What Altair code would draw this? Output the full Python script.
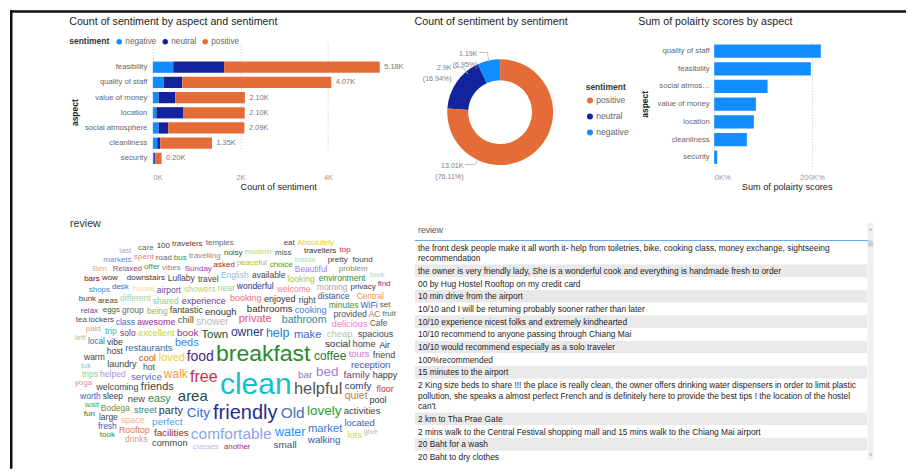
import numpy as np
import pandas as pd
import altair as alt

# ------------------------------------------------------------------ data
aspects = ["feasibility", "quality of staff", "value of money", "location",
           "social atmosphere", "cleanliness", "security"]
sentiment_order = ["negative", "neutral", "positive"]
neg_counts = [466, 250, 132, 80, 130, 100, 30]
neu_counts = [1161, 420, 380, 620, 220, 70, 25]
pos_counts = [3553, 3404, 1590, 1398, 1740, 1180, 145]

polarity_aspects = ["quality of staff", "feasibility", "social atmosphere",
                    "value of money", "location", "cleanliness", "security"]
polarity_sums = [2184, 1980, 1093, 854, 813, 669, 61]

reviews = [
    "the front desk people make it all worth it- help from toiletries, bike, cooking class, money exchange, sightseeing recommendation",
    "the owner is very friendly lady, She is a wonderful cook and everything is handmade fresh to order",
    "00 by Hug Hostel Rooftop on my credit card",
    "10 min drive from the airport",
    "10/10 and I will be returning probably sooner rather than later",
    "10/10 experience nicest folks and extremely kindhearted",
    "10/10 recommend to anyone passing through Chiang Mai",
    "10/10 would recommend especially as a solo traveler",
    "100%recommended",
    "15 minutes to the airport",
    "2 King size beds to share !!! the place is really clean, the owner offers drinking water dispensers in order to limit plastic pollution, she speaks a almost perfect French and is definitely here to provide the best tips ! the location of the hostel can't",
    "2 km to Tha Prae Gate",
    "2 mins walk to the Central Festival shopping mall and 15 mins walk to the Chiang Mai airport",
    "20 Baht for a wash",
    "20 Baht to dry clothes",
]

cloud_words = [
    "privacy", "Beautiful", "choice", "peaceful", "asked", "Sunday", "house", "yoga", "local", "lockers",
    "downstairs", "Bodega", "welcome", "wait", "eggs", "minutes", "small", "problem", "Old", "wonderful",
    "paid", "walking", "fruit", "sleep", "Inside", "fun", "bar", "another", "enjoyed", "drinks",
    "vibes", "Rooftop", "areas", "miss", "modern", "common", "delicious", "cheap", "located", "noisy",
    "travelling", "desk", "relax", "pretty", "owner", "bathrooms", "comfortable", "travellers", "find", "look",
    "facilities", "bus", "comfy", "offer", "service", "City", "street", "near", "classes", "provided",
    "fantastic", "food", "floor", "temples", "shops", "bunk", "chill", "water", "enough", "lots",
    "road", "helpful", "found", "Relaxed", "travelers", "wow", "spent", "private", "set", "easy",
    "loved", "Absolutely", "hot", "100", "being", "Air", "walk", "lovely", "distance", "tours",
    "cool", "restaurant", "showers", "bars", "activities", "Town", "markets", "solo", "bathroom", "care",
    "booking", "experience", "pool", "market", "family", "Ben", "left", "weeks", "tuk", "centre",
    "reception", "beds", "host", "Cafe", "coffee", "breakfast", "dinners", "enjoy", "last", "shared",
    "restaurants", "make", "wanted", "social", "vibe", "right", "value", "music", "crawl", "relaxing",
    "excellent", "tea", "bed", "perfect", "helped", "large", "took", "nearby", "friends", "awesome",
    "dinner", "garden", "home", "morning", "looking", "never", "available", "happy", "welcoming", "give",
    "Gate", "shower", "area", "tour", "toast", "AC", "class", "English", "space", "help",
    "clean", "Kate", "stuff", "kitchen", "free", "travel", "airport", "eat", "book", "reasonable",
    "friendly", "laundry", "quiet", "toilet", "cooking", "new", "party", "spacious", "fresh", "group",
    "WiFi", "light", "owners", "warm", "trip", "top", "friend", "trips", "convenient", "Central",
    "Lullaby", "worth", "different", "needed", "prices", "issue", "thank", "environment", "drink", "second",
]
cloud_counts = [
    26, 30, 26, 26, 26, 26, 26, 26, 28, 26,
    26, 31, 31, 26, 26, 31, 46, 26, 101, 31,
    26, 44, 26, 31, 26, 26, 46, 24, 36, 31,
    26, 34, 26, 26, 26, 39, 38, 41, 40, 26,
    26, 26, 26, 26, 66, 43, 101, 26, 26, 26,
    44, 26, 46, 26, 44, 81, 39, 31, 24, 33,
    35, 86, 34, 26, 26, 26, 39, 71, 41, 38,
    26, 111, 26, 26, 26, 26, 26, 56, 26, 53,
    56, 26, 31, 26, 31, 31, 66, 81, 31, 40,
    40, 26, 31, 26, 42, 61, 26, 31, 52, 26,
    36, 36, 36, 59, 46, 26, 26, 26, 21, 26,
    42, 56, 31, 31, 66, 176, 26, 26, 26, 31,
    41, 59, 26, 46, 31, 33, 26, 26, 26, 26,
    39, 26, 81, 46, 32, 31, 26, 26, 56, 36,
    26, 26, 39, 31, 31, 26, 31, 36, 36, 26,
    26, 48, 96, 26, 26, 31, 31, 31, 36, 71,
    246, 26, 26, 26, 106, 31, 31, 26, 46, 26,
    146, 36, 52, 26, 39, 39, 54, 36, 31, 31,
    31, 26, 26, 31, 31, 26, 36, 31, 26, 31,
    31, 31, 31, 26, 26, 26, 26, 31, 26, 26,
]

# ----------------------------------------------------------------- style
ORANGE, NAVY, BLUE = "#E66C37", "#12239E", "#118DFF"
FONT = "Liberation Sans"
DARK = "#252423"
cloud_palette = [
    "#3a3a3a", "#9d7df0", "#2ca02c", "#bcbd22", "#a0282d", "#a23fae", "#f0d8a0", "#d98d9c", "#1f77b4", "#444444",
    "#333333", "#7a8b2a", "#ff7f8e", "#3cae3c", "#2e6b2e", "#3b8e3b", "#4d4f6e", "#8a8a5a", "#4a6fba", "#2b2b82",
    "#c8a870", "#3757a8", "#3d7a3d", "#333a55", "#a8e0a0", "#2e6b2e", "#8a7bc0", "#a2306c", "#333333", "#c9a090",
    "#8a8a8a", "#e8743b", "#4d4d2a", "#1e5e3e", "#b8d65a", "#444444", "#e87dd0", "#a8c8a8", "#3560b0", "#2e5e2e",
    "#8a8a8a", "#3a6ad0", "#6a4a9a", "#444444", "#24378a", "#333333", "#8ea2ea", "#333333", "#8a3a8a", "#90e0e0",
    "#8b2a2a", "#2a9a2a", "#24386a", "#3aa03a", "#5a6ab0", "#3a6adf", "#2a8a8a", "#9ad09a", "#c0b0e8", "#445566",
    "#3a4a2a", "#4a2a7a", "#d03030", "#666666", "#3a8ad0", "#444444", "#4a5a2a", "#1e90ff", "#333333", "#c8d850",
    "#666666", "#555555", "#444444", "#a05050", "#6a3a2a", "#333333", "#f08080", "#e0507a", "#555555", "#2a8a4a",
    "#e8d020", "#e8d020", "#2a5a4a", "#333333", "#a0b060", "#222244", "#f39c3a", "#2aa02a", "#334f8f", "#d070d0",
    "#d05010", "#556070", "#c0d070", "#8b0000", "#444444", "#1e4e1e", "#6a8ae0", "#8a2a6a", "#2a8a9a", "#666666",
    "#f07070", "#6a3a9a", "#333333", "#3a7ad0", "#6a3a8a", "#f0a080", "#c0c070", "#c8c890", "#a0c0a0", "#444444",
    "#3a5aa0", "#3a8ae0", "#444444", "#555555", "#2a7a2a", "#2a8a2a", "#556b2f", "#5a3a2a", "#aab0c0", "#8ad08a",
    "#2a6ab0", "#3a6ad0", "#ff60c0", "#333333", "#333333", "#334455", "#a05050", "#d080d0", "#d0b0a0", "#9a7a3a",
    "#c0d050", "#555555", "#a080d0", "#4aa0e0", "#b090e0", "#444444", "#2a8a2a", "#444444", "#444444", "#9a2a9a",
    "#444444", "#aaaaaa", "#444444", "#aaaaaa", "#b0c040", "#aaaaaa", "#444444", "#333333", "#444444", "#bbbbbb",
    "#3a6ad0", "#bbbbbb", "#1e4e3e", "#888888", "#444444", "#b07050", "#3a6ad0", "#8ac0e0", "#f0b080", "#1e80d0",
    "#17becf", "#8a8a3a", "#b0b070", "#333333", "#c0304a", "#444444", "#6a4a9a", "#444444", "#8a3a8a", "#333344",
    "#1e2e8e", "#444444", "#c0803a", "#6ae06a", "#3a80e0", "#444444", "#333344", "#444444", "#3a60b0", "#666666",
    "#3a5ad0", "#888888", "#f09090", "#444444", "#2ac0d0", "#d02050", "#444444", "#8ad08a", "#c0e0c0", "#f09050",
    "#444444", "#3a60d0", "#a0d0a0", "#333333", "#334455", "#444444", "#777777", "#2a8a2a", "#2ad02a", "#555555",
]

# Arial / Liberation Sans advance widths (1/1000 em) for text measurement
AW = dict(zip("abcdefghijklmnopqrstuvwxyz",
              [556, 556, 500, 556, 556, 278, 556, 556, 222, 222, 500, 222, 833,
               556, 556, 556, 556, 333, 500, 278, 556, 500, 722, 500, 500, 500]))
AW.update(zip("ABCDEFGHIJKLMNOPQRSTUVWXYZ",
              [667, 667, 722, 722, 667, 611, 778, 722, 278, 500, 667, 556, 833,
               722, 778, 667, 778, 722, 667, 611, 722, 667, 944, 667, 667, 611]))
AW.update({c: 556 for c in "0123456789"})
AW.update({" ": 278, "!": 278, ",": 278, ".": 278, "-": 333, "'": 191, "/": 278,
           "%": 889, "(": 333, ")": 333, ":": 278, "?": 556})


def text_width(s, fs):
    return sum(AW.get(ch, 556) for ch in s) * fs / 1000.0


one = pd.DataFrame({"k": [0]})

# ------------------------------------------------ P0: spacer + frame
frame_left = alt.Chart(one).mark_rule(color="#111111", strokeWidth=2.5).encode(
    x=alt.value(-65.75), y=alt.value(-32), y2=alt.value(427))
frame_top = alt.Chart(one).mark_rule(color="#111111", strokeWidth=2.5).encode(
    x=alt.value(-67), x2=alt.value(830), y=alt.value(-30.75))
P0 = alt.layer(frame_left, frame_top).properties(width=76, height=124)

# ------------------------------------------------ P1: stacked bars
rows = []
for a, n, u, p in zip(aspects, neg_counts, neu_counts, pos_counts):
    for s, c in zip(sentiment_order, (n, u, p)):
        rows.append({"aspect": a, "sentiment": s, "count": c})
df1 = pd.DataFrame(rows)

P1_W, P1_H = 251, 124
x1_axis = alt.Axis(values=[0, 2000, 4000], labelExpr="datum.value/1000 + 'K'",
                   title="Count of sentiment", titleFontSize=9.1, titleFontWeight="normal",
                   titleColor=DARK, titlePadding=2, labelFontSize=7.7, labelColor="#9a9a9a",
                   labelPadding=7, ticks=False, domain=False, grid=True, gridDash=[1, 2],
                   gridColor="#c4c4c4")
y1_axis = alt.Axis(title="aspect", titleX=-78, titleY=70, titleAngle=270, titleAlign="center",
                   titleBaseline="middle", titleFontSize=8.5, titleFontWeight="bold",
                   titleColor=DARK, labelFontSize=7.7, labelColor="#666666", labelPadding=6,
                   ticks=False, domain=False, labelLimit=150)
y1 = alt.Y("aspect:N", sort=aspects,
           scale=alt.Scale(range=[17.4, 123.9], paddingInner=0.26, paddingOuter=0.13),
           axis=y1_axis)
bars1 = alt.Chart(df1).transform_calculate(
    o="indexof(['negative','neutral','positive'], datum.sentiment)"
).mark_bar().encode(
    x=alt.X("count:Q", stack="zero", scale=alt.Scale(domain=[0, 5724], nice=False), axis=x1_axis),
    y=y1,
    color=alt.Color("sentiment:N",
                    scale=alt.Scale(domain=sentiment_order, range=[BLUE, NAVY, ORANGE]),
                    legend=alt.Legend(orient="none", legendX=-83.7, legendY=-5,
                                      direction="horizontal", title="sentiment",
                                      titleOrient="left", titleFontSize=8.5,
                                      titleFontWeight="bold", titleColor="#333333",
                                      labelFontSize=8.2, labelColor="#666666",
                                      symbolType="circle", symbolSize=30,
                                      symbolStrokeWidth=0, labelOffset=2, columnPadding=4,
                                      titlePadding=5, padding=0)),
    order=alt.Order("o:Q"),
)
lab1 = alt.Chart(df1).transform_aggregate(
    total="sum(count)", groupby=["aspect"]
).transform_calculate(
    lbl="format(datum.total/1000, '.2f') + 'K'"
).mark_text(align="left", baseline="middle", dx=4.5, fontSize=7.4, color="#777777").encode(
    x=alt.X("total:Q", title="Count of sentiment"),
    y=alt.Y("aspect:N", sort=aspects),
    text="lbl:N",
)
P1 = alt.layer(bars1, lab1).properties(
    width=P1_W, height=P1_H,
    title=alt.TitleParams("Count of sentiment by aspect and sentiment", anchor="start",
                          frame="group", dx=-83.7, offset=10, fontSize=10.7,
                          fontWeight="normal", color=DARK, font=FONT))

# ------------------------------------------------ P2: donut
don = alt.Chart(df1).transform_aggregate(
    total="sum(count)", groupby=["sentiment"]
).transform_joinaggregate(
    grand="sum(total)"
).transform_calculate(
    o="indexof(['positive','neutral','negative'], datum.sentiment)",
    lbl="format(datum.total/1000, '.2~f') + 'K\\n(' + format(datum.total/datum.grand, '.2%') + ')'",
)
arc = don.mark_arc(innerRadius=32, outerRadius=53).encode(
    theta=alt.Theta("total:Q", stack=True),
    order=alt.Order("o:Q"),
    color=alt.Color("sentiment:N",
                    scale=alt.Scale(domain=["positive", "neutral", "negative"],
                                    range=[ORANGE, NAVY, BLUE]),
                    legend=alt.Legend(orient="none", legendX=182.3, legendY=40.5,
                                      direction="vertical", title="sentiment",
                                      titleFontSize=8.5, titleFontWeight="bold",
                                      titleColor="#333333", labelFontSize=8.6,
                                      labelColor="#666666", symbolType="circle",
                                      symbolSize=36, symbolStrokeWidth=0, labelOffset=2,
                                      rowPadding=7, titlePadding=5, padding=0)),
    x=alt.value(96.7), y=alt.value(70),
)
don_labels = []
for s, lx, ly in [("negative", 74, 11.7), ("neutral", 48, 25.8), ("positive", 60, 124.2)]:
    don_labels.append(
        don.transform_filter(f"datum.sentiment == '{s}'").mark_text(
            align="right", baseline="middle", lineBreak="\n", lineHeight=11,
            fontSize=7.1, color="#808080"
        ).encode(text="lbl:N", x=alt.value(lx), y=alt.value(ly)))
leaders = []
for (ax, ay, bx, by) in [(75.8, 10.2, 84, 10.2), (84, 10.2, 85.5, 19.5),
                         (49.5, 25.5, 59.5, 25.5), (59.5, 25.5, 64.5, 32),
                         (61.5, 122.5, 72, 122.5), (72, 122.5, 74.5, 116.5)]:
    leaders.append(alt.Chart(one).mark_rule(color="#b0b0b0", strokeWidth=0.8).encode(
        x=alt.value(ax), y=alt.value(ay), x2=alt.value(bx), y2=alt.value(by)))
P2 = alt.layer(arc, *don_labels, *leaders).properties(
    width=311, height=124,
    title=alt.TitleParams("Count of sentiment by sentiment", anchor="start", frame="group",
                          dx=11, offset=14.6, fontSize=10.7, fontWeight="normal",
                          color=DARK, font=FONT))

# ------------------------------------------------ P3: polarity bars
df3 = pd.DataFrame({"aspect": polarity_aspects, "score": polarity_sums})
P3 = alt.Chart(df3).mark_bar(color=BLUE).encode(
    x=alt.X("score:Q", scale=alt.Scale(domain=[0, 2968], nice=False),
            axis=alt.Axis(values=[0, 2000], labelExpr="format(datum.value/10, 'd') + 'K%'",
                          title="Sum of polairty scores", titleFontSize=9.2,
                          titleFontWeight="normal", titleColor=DARK, titlePadding=2,
                          labelFontSize=7.7, labelColor="#9a9a9a", labelPadding=7,
                          ticks=False, domain=False, grid=True, gridDash=[1, 2],
                          gridColor="#c4c4c4")),
    y=alt.Y("aspect:N", sort=polarity_aspects,
            scale=alt.Scale(paddingInner=0.25, paddingOuter=0.125),
            axis=alt.Axis(title="aspect", titleX=-70, titleY=61.7, titleAngle=270,
                          titleAlign="center", titleBaseline="middle", titleFontSize=8.5,
                          titleFontWeight="bold", titleColor=DARK, labelFontSize=7.7,
                          labelColor="#666666", labelPadding=5, labelLimit=54,
                          ticks=False, domain=False)),
).properties(
    width=145, height=124,
    title=alt.TitleParams("Sum of polairty scores by aspect", anchor="start", frame="group",
                          dx=-76, offset=14.6, fontSize=10.7, fontWeight="normal",
                          color=DARK, font=FONT))

# ------------------------------------------------ word cloud (spiral layout)
SZ_DOM, SZ_RNG = (20, 250), (7.4, 30.4)


def font_size(c):
    return SZ_RNG[0] + (c - SZ_DOM[0]) * (SZ_RNG[1] - SZ_RNG[0]) / (SZ_DOM[1] - SZ_DOM[0])


GW, GH = 326, 212
yy, xx = np.mgrid[0:GH, 0:GW]
ex = (xx + 0.5 - GW / 2) / (GW / 2)
ey = (yy + 0.5 - GH / 2) / (GH / 2)
outside = (np.abs(ex) ** 4 + np.abs(ey) ** 4) > 1.0
occupied = outside.copy()
CX, CY = 183.0, 146.0
spiral = []
t = 0.0
while True:
    r = 0.6 * t
    if r > 230:
        break
    spiral.append((CX + 1.5 * r * np.cos(t), CY - r * np.sin(t)))
    t += min(0.5, 1.5 / max(r, 1.0))


def try_place(word, fs, hfac, wpad):
    w = text_width(word, fs) + wpad
    h = fs * hfac + 0.4
    wi, hi = int(np.ceil(w)), int(np.ceil(h))
    for (px, py) in spiral:
        x0 = int(round(px - w / 2))
        y0 = int(round(py - h / 2))
        if x0 < 0 or y0 < 0 or x0 + wi > GW or y0 + hi > GH:
            continue
        if not occupied[y0:y0 + hi, x0:x0 + wi].any():
            occupied[y0:y0 + hi, x0:x0 + wi] = True
            return x0 + wi / 2, y0 + hi / 2
    return None


order_idx = sorted(range(len(cloud_words)), key=lambda i: -cloud_counts[i])
placed, pending = [], []
for i in order_idx:
    fs = font_size(cloud_counts[i])
    hfac = 1.12 if fs >= 12 else 0.96
    pos = try_place(cloud_words[i], fs, hfac, 1.6)
    if pos is None:
        pending.append(i)
    else:
        placed.append((i, pos))
# second pass: release the outline limit slightly for words that did not fit
occupied &= ~(outside & ~((np.abs(ex) ** 4 + np.abs(ey) ** 4) > 1.12))
for i in pending:
    fs = font_size(cloud_counts[i])
    pos = try_place(cloud_words[i], fs, 0.9, 1.0)
    if pos is not None:
        placed.append((i, pos))
df_wc = pd.DataFrame([{"word": cloud_words[i], "count": cloud_counts[i],
                       "px": p[0] - 4, "py": p[1] + 16} for i, p in placed])

WC_W, ROW2_H = 338, 242
WC = alt.Chart(df_wc).mark_text(baseline="middle", align="center", font=FONT).encode(
    x=alt.X("px:Q", scale=alt.Scale(domain=[0, WC_W], range=[0, WC_W]), axis=None),
    y=alt.Y("py:Q", scale=alt.Scale(domain=[0, ROW2_H], range=[0, ROW2_H]), axis=None),
    text="word:N",
    size=alt.Size("count:Q", scale=alt.Scale(domain=list(SZ_DOM), range=list(SZ_RNG)), legend=None),
    color=alt.Color("word:N", scale=alt.Scale(domain=cloud_words, range=cloud_palette), legend=None),
).properties(
    width=WC_W, height=ROW2_H,
    title=alt.TitleParams("review", anchor="start", frame="group", dx=-7, offset=-6.4,
                          fontSize=10.7, fontWeight="normal", color="#333333", font=FONT))

# ------------------------------------------------ table
T_FS, T_MAXW, LINE_H, ROW_PAD, T_TOP = 8.4, 446, 10.6, 2.1, 18.3


def wrap(text):
    out, cur = [], ""
    for wd in text.split(" "):
        cand = wd if not cur else cur + " " + wd
        if not cur or text_width(cand, T_FS) <= T_MAXW:
            cur = cand
        else:
            out.append(cur)
            cur = wd
    out.append(cur)
    return out


bg_rows, tx_rows = [], []
ycur = T_TOP
for i, rv in enumerate(reviews):
    ls = wrap(rv)
    hgt = ROW_PAD + LINE_H * len(ls)
    bg_rows.append({"i": i, "y0": ycur, "y1": ycur + hgt})
    for k, ln in enumerate(ls):
        tx_rows.append({"line": ln, "yc": ycur + ROW_PAD / 2 + LINE_H / 2 + LINE_H * k})
    ycur += hgt
df_bg = pd.DataFrame(bg_rows)
df_tx = pd.DataFrame(tx_rows)

T_W = 460
yT = alt.Scale(domain=[0, ROW2_H], range=[0, ROW2_H])
t_bg = alt.Chart(df_bg).transform_calculate(
    f="datum.i % 2 == 1 ? '#e9e9e9' : '#ffffff'"
).mark_rect(clip=True).encode(
    x=alt.value(0), x2=alt.value(453),
    y=alt.Y("y0:Q", scale=yT, axis=None), y2="y1:Q",
    fill=alt.Fill("f:N", scale=None),
)
t_tx = alt.Chart(df_tx).mark_text(align="left", baseline="middle", fontSize=T_FS,
                                  color="#252423", clip=True).encode(
    x=alt.value(3.5), y=alt.Y("yc:Q", scale=yT, axis=None), text="line:N")
t_head = alt.Chart(one).mark_text(text="review", align="left", baseline="middle",
                                  fontSize=8.6, color="#555555").encode(
    x=alt.value(3.5), y=alt.value(7))
t_line = alt.Chart(one).mark_rule(color="#6aaaf0", strokeWidth=1.2).encode(
    x=alt.value(0), x2=alt.value(454), y=alt.value(17.5))
t_track = alt.Chart(one).mark_rect(color="#f0f0f0").encode(
    x=alt.value(453.5), x2=alt.value(459.5), y=alt.value(0), y2=alt.value(237))
t_thumb = alt.Chart(one).mark_rect(color="#cdcdcd").encode(
    x=alt.value(454), x2=alt.value(459), y=alt.value(17.5), y2=alt.value(23.5))
t_up = alt.Chart(one).mark_text(text="^", fontSize=6.5, color="#888888").encode(
    x=alt.value(456.5), y=alt.value(8))
t_down = alt.Chart(one).mark_text(text="v", fontSize=5.5, color="#888888").encode(
    x=alt.value(456.5), y=alt.value(231))
T = alt.layer(t_track, t_thumb, t_bg, t_tx, t_head, t_line, t_up, t_down).properties(
    width=T_W, height=ROW2_H)

# ------------------------------------------------ compose
# with flush bounds a nested concat counts as zero height, so the row gap
# carries the first row's plot height (124) plus the 57 px gap
row1 = alt.hconcat(P0, P1, P2, P3, spacing=0, bounds="flush").resolve_scale(
    color="independent").resolve_legend(color="independent")
row2 = alt.hconcat(WC, T, spacing=0, bounds="flush").resolve_scale(
    color="independent", size="independent")
chart = alt.vconcat(row1, row2, spacing=124 + 57, bounds="flush", padding=0).resolve_scale(
    color="independent", size="independent").resolve_legend(color="independent").configure(
    font=FONT).configure_view(stroke=None)

chart.save("out.html", embed_options={"renderer": "svg", "actions": False})
